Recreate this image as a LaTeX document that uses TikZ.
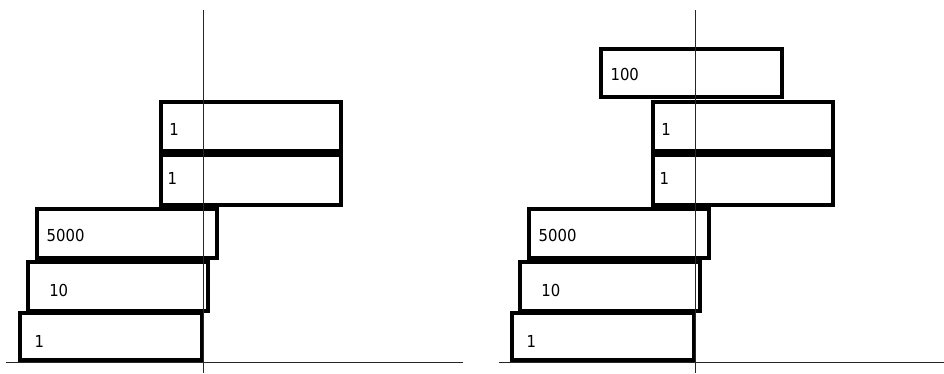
\documentclass[tikz,border=0pt]{standalone}
\usepackage{fontspec}
\setmainfont{DejaVu Sans}[FakeStretch=0.9]
\begin{document}
\begin{tikzpicture}[x=1pt,y=-1pt,
  box/.style={draw=black, line width=4pt, rectangle, outer sep=0pt, inner sep=0pt, anchor=north west},
  lbl/.style={anchor=base west, inner sep=0pt, font=\fontsize{16.5}{16.5}\selectfont, text=black},
  axis/.style={draw=black!85, line width=0.9pt}]
\useasboundingbox (0,0) rectangle (944,373);
% ---------- left panel ----------
\node[box, minimum width=180.3pt, minimum height=49.8pt] (L1) at (160.7,101.5) {};
\node[box, minimum width=180.3pt, minimum height=49.5pt] (L2) at (160.7,155) {};
\node[box, minimum width=180.5pt, minimum height=49.3pt] (L3) at (36.5,209) {};
\node[box, minimum width=180.3pt, minimum height=48.7pt] (L4) at (27.5,262) {};
\node[box, minimum width=181.9pt, minimum height=47pt] (L5) at (19.8,313) {};
\node[lbl] (tL1) at (169.1,135) {1};
\node[lbl] (tL2) at (167.4,184.4) {1};
\node[lbl] (tL3) at (46.5,241) {5000};
\node[lbl] (tL4) at (49.1,296.6) {10};
\node[lbl] (tL5) at (34.4,347.3) {1};
\coordinate (La) at (203.3,10);
\coordinate (Lb) at (203.3,373);
\coordinate (Lc) at (6,362.7);
\coordinate (Ld) at (463,362.7);
\draw[axis] (La) -- (Lb);
\draw[axis] (Lc) -- (Ld);
% ---------- right panel ----------
\begin{scope}[xshift=492pt]
\node[box, minimum width=180.8pt, minimum height=47.8pt] (R0) at (108.7,49.2) {};
\node[box, minimum width=180.3pt, minimum height=49.8pt] (R1) at (160.7,101.5) {};
\node[box, minimum width=180.3pt, minimum height=49.5pt] (R2) at (160.7,155) {};
\node[box, minimum width=180.5pt, minimum height=49.3pt] (R3) at (36.5,209) {};
\node[box, minimum width=180.3pt, minimum height=48.7pt] (R4) at (27.5,262) {};
\node[box, minimum width=181.9pt, minimum height=47pt] (R5) at (19.8,313) {};
\node[lbl] (tR0) at (118.4,80) {100};
\node[lbl] (tR1) at (169.1,135) {1};
\node[lbl] (tR2) at (167.4,184.4) {1};
\node[lbl] (tR3) at (46.5,241) {5000};
\node[lbl] (tR4) at (49.1,296.6) {10};
\node[lbl] (tR5) at (34.4,347.3) {1};
\coordinate (Ra) at (203.3,10);
\coordinate (Rb) at (203.3,373);
\coordinate (Rc) at (6.7,362.7);
\coordinate (Rd) at (452,362.7);
\draw[axis] (Ra) -- (Rb);
\draw[axis] (Rc) -- (Rd);
\end{scope}
\end{tikzpicture}
\end{document}
